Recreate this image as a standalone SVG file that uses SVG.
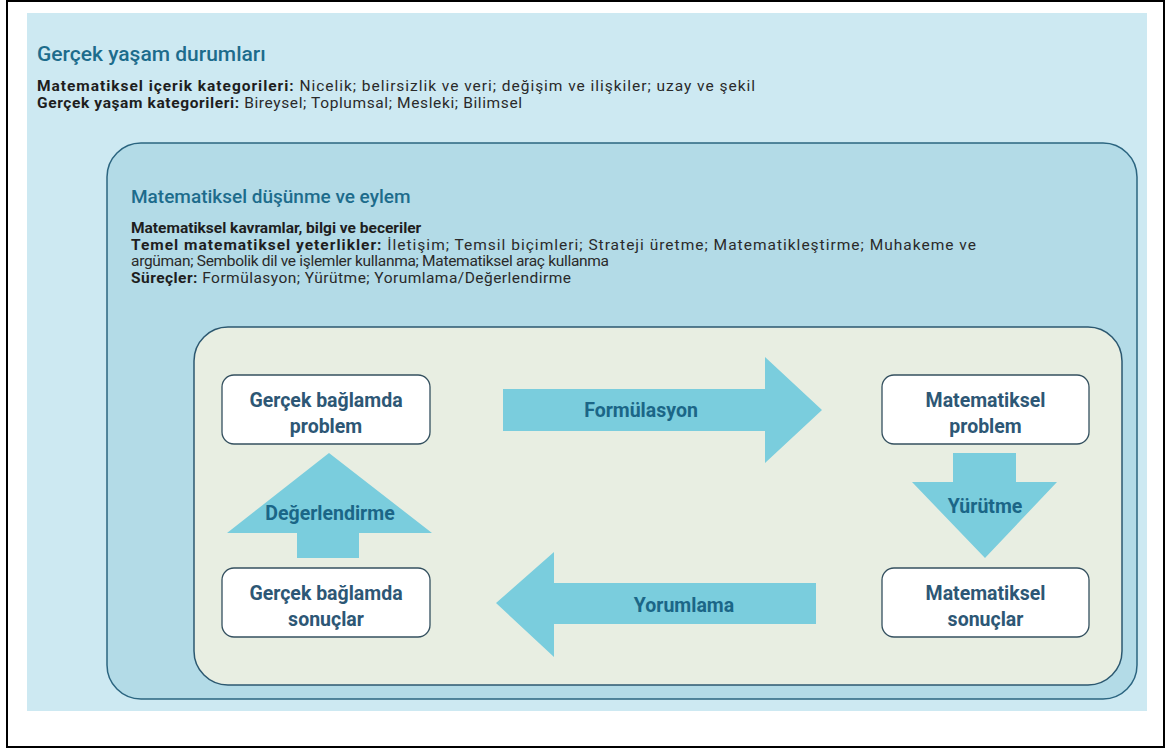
<svg xmlns="http://www.w3.org/2000/svg" width="1167" height="749" viewBox="0 0 1167 749">
  <style>
    .frame { fill: #ffffff; stroke: #000000; stroke-width: 2; }
    .zone-outer { fill: #cde9f2; }
    .zone-mid { fill: #b3dbe7; stroke: #2b6580; stroke-width: 1.5; }
    .zone-inner { fill: #e8eee2; stroke: #2c5870; stroke-width: 1.5; }
    .box { fill: #ffffff; stroke: #34505f; stroke-width: 1.3; }
    .flow { fill: #7acddd; }
    .h1 { font-family: Roboto, "Liberation Sans", sans-serif; font-weight: 500; fill: #1d6c8c; }
    .body { font-family: Roboto, "Liberation Sans", sans-serif; font-size: 15.5px; fill: #2a2a2a; }
    .body .b { font-weight: 700; fill: #1e1e1e; }
    .node-text { font-family: Roboto, "Liberation Sans", sans-serif; font-size: 19.5px; font-weight: 700; fill: #2d5775; text-anchor: middle; }
    .flow-text { font-family: Roboto, "Liberation Sans", sans-serif; font-size: 19.5px; font-weight: 700; fill: #1b6687; text-anchor: middle; }
  </style>

  <!-- page frame -->
  <rect class="frame" x="7" y="1" width="1157" height="746"/>

  <!-- real-life context zone -->
  <g id="zone-real-life">
    <rect class="zone-outer" x="27" y="13" width="1120" height="698"/>
    <text class="h1" x="37" y="61" font-size="21">Gerçek yaşam durumları</text>
    <text class="body" x="37" y="91" font-size="16" textLength="718"><tspan class="b">Matematiksel içerik kategorileri:</tspan> Nicelik; belirsizlik ve veri; değişim ve ilişkiler; uzay ve şekil</text>
    <text class="body" x="37" y="108" font-size="16" textLength="485"><tspan class="b">Gerçek yaşam kategorileri:</tspan> Bireysel; Toplumsal; Mesleki; Bilimsel</text>
  </g>

  <!-- mathematical thinking zone -->
  <g id="zone-math-thinking">
    <rect class="zone-mid" x="107" y="143" width="1030" height="556" rx="34" ry="34"/>
    <text class="h1" x="131" y="203" font-size="19">Matematiksel düşünme ve eylem</text>
    <text class="body" x="131" y="233" font-size="14.5"><tspan class="b">Matematiksel kavramlar, bilgi ve beceriler</tspan></text>
    <text class="body" x="131" y="249.5" textLength="845"><tspan class="b">Temel matematiksel yeterlikler:</tspan> İletişim; Temsil biçimleri; Strateji üretme; Matematikleştirme; Muhakeme ve</text>
    <text class="body" x="131" y="266" textLength="478">argüman; Sembolik dil ve işlemler kullanma; Matematiksel araç kullanma</text>
    <text class="body" x="131" y="282.5" textLength="440"><tspan class="b">Süreçler:</tspan> Formülasyon; Yürütme; Yorumlama/Değerlendirme</text>
  </g>

  <!-- modelling cycle zone -->
  <g id="zone-cycle">
    <rect class="zone-inner" x="194" y="327" width="928" height="358" rx="34" ry="34"/>
  </g>

  <!-- process arrows -->
  <g id="connectors">
    <g id="arrow-formulasyon">
      <path class="flow" d="M503,389 H765 V357 L822,410 L765,463 V431 H503 Z"/>
      <text class="flow-text" x="641" y="417">Formülasyon</text>
    </g>
    <g id="arrow-yurutme">
      <path class="flow" d="M953,453 H1016 V482 H1057 L985,558 L912,482 H953 Z"/>
      <text class="flow-text" x="985" y="513">Yürütme</text>
    </g>
    <g id="arrow-yorumlama">
      <path class="flow" d="M816,583 H554 V552 L496,603 L554,657 V624 H816 Z"/>
      <text class="flow-text" x="684" y="612">Yorumlama</text>
    </g>
    <g id="arrow-degerlendirme">
      <path class="flow" d="M297,558 V533 H227 L329,453 L432,533 H359 V558 Z"/>
      <text class="flow-text" x="330" y="520">Değerlendirme</text>
    </g>
  </g>

  <!-- cycle nodes -->
  <g id="node-real-problem">
    <rect class="box" x="222" y="375" width="208" height="69" rx="12" ry="12"/>
    <text class="node-text" x="326" y="407">Gerçek bağlamda</text>
    <text class="node-text" x="326" y="433">problem</text>
  </g>
  <g id="node-math-problem">
    <rect class="box" x="882" y="375" width="207" height="69" rx="12" ry="12"/>
    <text class="node-text" x="985.5" y="407">Matematiksel</text>
    <text class="node-text" x="985.5" y="433">problem</text>
  </g>
  <g id="node-math-results">
    <rect class="box" x="882" y="568" width="207" height="69" rx="12" ry="12"/>
    <text class="node-text" x="985.5" y="600">Matematiksel</text>
    <text class="node-text" x="985.5" y="626">sonuçlar</text>
  </g>
  <g id="node-real-results">
    <rect class="box" x="222" y="568" width="208" height="69" rx="12" ry="12"/>
    <text class="node-text" x="326" y="600">Gerçek bağlamda</text>
    <text class="node-text" x="326" y="626">sonuçlar</text>
  </g>
</svg>
